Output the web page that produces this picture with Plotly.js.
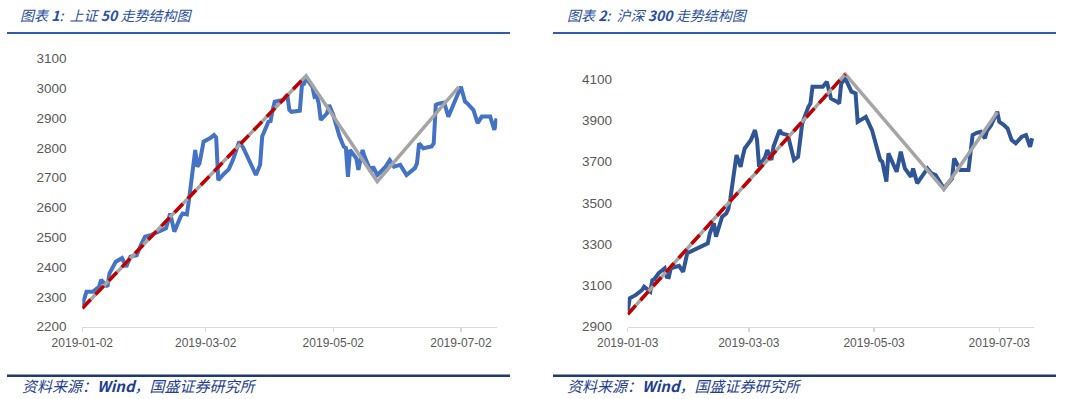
<!DOCTYPE html>
<html><head><meta charset="utf-8">
<script src="https://cdn.plot.ly/plotly-3.0.1.min.js"></script>
<style>html,body{margin:0;padding:0;background:#fff;}#chart{width:1080px;height:399px;}</style>
</head><body><div id="chart"></div>
<script>
// ---- Chart 1: SSE 50 ----
const sse50Dates = ['2019-01-02','2019-01-04','2019-01-07','2019-01-10','2019-01-11','2019-01-14','2019-01-15','2019-01-18','2019-01-21','2019-01-23','2019-01-25','2019-01-28','2019-01-30','2019-02-01','2019-02-04','2019-02-08','2019-02-11','2019-02-13','2019-02-15','2019-02-18','2019-02-19','2019-02-21','2019-02-22','2019-02-25','2019-02-26','2019-02-27','2019-03-01','2019-03-04','2019-03-06','2019-03-07','2019-03-08','2019-03-11','2019-03-13','2019-03-15','2019-03-18','2019-03-20','2019-03-22','2019-03-25','2019-03-26','2019-03-28','2019-03-29','2019-04-01','2019-04-02','2019-04-03','2019-04-04','2019-04-08','2019-04-10','2019-04-11','2019-04-12','2019-04-16','2019-04-17','2019-04-18','2019-04-19','2019-04-22','2019-04-23','2019-04-24','2019-04-25','2019-04-26','2019-04-29','2019-04-30','2019-05-02','2019-05-05','2019-05-07','2019-05-08','2019-05-09','2019-05-10','2019-05-13','2019-05-14','2019-05-16','2019-05-17','2019-05-20','2019-05-21','2019-05-23','2019-05-24','2019-05-27','2019-05-29','2019-05-31','2019-06-03','2019-06-06','2019-06-10','2019-06-11','2019-06-12','2019-06-14','2019-06-18','2019-06-19','2019-06-20','2019-06-21','2019-06-24','2019-06-26','2019-06-28','2019-07-01','2019-07-02','2019-07-04','2019-07-05','2019-07-08','2019-07-10','2019-07-12','2019-07-15','2019-07-16','2019-07-18','2019-07-19'];
const sse50Values = [2273,2317,2317,2334,2357,2334,2379,2418,2430,2401,2435,2440,2474,2502,2508,2522,2530,2580,2519,2569,2580,2577,2625,2793,2737,2748,2821,2832,2843,2835,2692,2715,2728,2759,2821,2800,2770,2720,2709,2743,2838,2888,2890,2927,2955,2961,2978,2927,2921,2925,3011,3015,3034,3005,2972,2975,2950,2894,2916,2944,2910,2838,2804,2800,2703,2793,2765,2726,2793,2770,2720,2737,2709,2715,2737,2759,2737,2743,2709,2732,2748,2815,2799,2805,2815,2944,2948,2952,2905,2938,2994,3005,2955,2950,2927,2883,2905,2905,2905,2860,2899];
const sse50TrendDates = ['2019-01-02','2019-04-19','2019-05-23','2019-07-01'];
const sse50TrendValues = [2262,3042,2687,3005];
const sse50UpDates = ['2019-01-02','2019-04-19'];
const sse50UpValues = [2262,3042];
const sse50Ticks = ['2019-01-02','2019-03-02','2019-05-02','2019-07-02'];
const sse50YTicks = [2200,2300,2400,2500,2600,2700,2800,2900,3000,3100];

// ---- Chart 2: CSI 300 ----
const hs300Dates = ['2019-01-03','2019-01-04','2019-01-07','2019-01-10','2019-01-11','2019-01-14','2019-01-15','2019-01-16','2019-01-18','2019-01-21','2019-01-22','2019-01-23','2019-01-24','2019-01-28','2019-01-30','2019-01-31','2019-02-01','2019-02-11','2019-02-12','2019-02-14','2019-02-15','2019-02-18','2019-02-20','2019-02-21','2019-02-22','2019-02-25','2019-02-26','2019-02-27','2019-02-28','2019-03-01','2019-03-04','2019-03-05','2019-03-06','2019-03-07','2019-03-08','2019-03-11','2019-03-12','2019-03-14','2019-03-15','2019-03-18','2019-03-19','2019-03-22','2019-03-25','2019-03-27','2019-03-29','2019-04-01','2019-04-02','2019-04-03','2019-04-08','2019-04-10','2019-04-12','2019-04-15','2019-04-16','2019-04-17','2019-04-18','2019-04-19','2019-04-22','2019-04-24','2019-04-25','2019-04-26','2019-04-29','2019-05-02','2019-05-04','2019-05-06','2019-05-07','2019-05-09','2019-05-10','2019-05-12','2019-05-14','2019-05-16','2019-05-18','2019-05-21','2019-05-22','2019-05-24','2019-05-26','2019-05-29','2019-05-31','2019-06-02','2019-06-06','2019-06-08','2019-06-10','2019-06-11','2019-06-13','2019-06-14','2019-06-18','2019-06-20','2019-06-22','2019-06-24','2019-06-26','2019-06-27','2019-06-29','2019-07-02','2019-07-03','2019-07-05','2019-07-07','2019-07-09','2019-07-11','2019-07-14','2019-07-16','2019-07-17','2019-07-18','2019-07-19'];
const hs300Values = [2975,3038,3054,3078,3094,3070,3126,3130,3159,3183,3142,3140,3183,3195,3166,3223,3256,3304,3352,3401,3336,3433,3449,3470,3520,3732,3700,3675,3724,3764,3805,3830,3853,3805,3675,3724,3756,3708,3772,3853,3837,3829,3708,3724,3885,3966,3982,4063,4063,4087,4006,3990,3982,4079,4090,4103,4039,4031,3893,3900,3917,3853,3772,3708,3700,3603,3740,3692,3651,3748,3667,3627,3667,3595,3627,3667,3643,3635,3570,3595,3619,3716,3670,3659,3659,3829,3840,3845,3813,3850,3877,3942,3893,3880,3861,3805,3789,3821,3829,3805,3772,3813];
const hs300TrendDates = ['2019-01-03','2019-04-19','2019-06-06','2019-07-02'];
const hs300TrendValues = [2960,4124,3566,3940];
const hs300UpDates = ['2019-01-03','2019-04-19'];
const hs300UpValues = [2960,4124];
const hs300Ticks = ['2019-01-03','2019-03-03','2019-05-03','2019-07-03'];
const hs300YTicks = [2900,3100,3300,3500,3700,3900,4100];

const W = 1080, H = 399;
const px = x => x / W;
const py = y => 1 - y / H;

const traces = [
  {x: sse50Dates, y: sse50Values, xaxis:'x', yaxis:'y', mode:'lines', line:{color:'#4472C4', width:4}, hoverinfo:'skip'},
  {x: sse50TrendDates, y: sse50TrendValues, xaxis:'x', yaxis:'y', mode:'lines', line:{color:'#A5A5A5', width:3.5}, hoverinfo:'skip'},
  {x: sse50UpDates, y: sse50UpValues, xaxis:'x', yaxis:'y', mode:'lines', line:{color:'#C00000', width:3.5, dash:'12px,7px'}, hoverinfo:'skip'},
  {x: hs300Dates, y: hs300Values, xaxis:'x2', yaxis:'y2', mode:'lines', line:{color:'#2F5597', width:4}, hoverinfo:'skip'},
  {x: hs300TrendDates, y: hs300TrendValues, xaxis:'x2', yaxis:'y2', mode:'lines', line:{color:'#A5A5A5', width:3.5}, hoverinfo:'skip'},
  {x: hs300UpDates, y: hs300UpValues, xaxis:'x2', yaxis:'y2', mode:'lines', line:{color:'#C00000', width:3.5, dash:'12px,7px'}, hoverinfo:'skip'}
];

const tickFontX = {family:'Liberation Sans, Arial, sans-serif', size:12, color:'#595959'};
const tickFontY = {family:'Liberation Sans, Arial, sans-serif', size:13.5, color:'#595959'};
const yDom = [py(326.7), py(58.5)];

function xAxis(dom, range, ticks){
  return {domain: dom, range: range, type:'date', tickmode:'array', tickvals: ticks, ticktext: ticks,
    showgrid:false, zeroline:false, showline:true, linecolor:'#D9D9D9', linewidth:1.5,
    ticks:'outside', ticklen:4, tickcolor:'#D9D9D9', tickwidth:1.5, tickfont: tickFontX, fixedrange:true};
}
function yAxis(anchor, range, ticks){
  return {domain: yDom, range: range, anchor: anchor, tickmode:'array', tickvals: ticks, ticktext: ticks.map(String),
    showgrid:false, zeroline:false, showline:false, ticks:'outside', ticklen:12, tickcolor:'rgba(0,0,0,0)',
    tickfont: tickFontY, fixedrange:true};
}

const titleFont = {family:'Noto Sans CJK SC, sans-serif', size:14, color:'#2B4FA0'};
const srcFont = {family:'Noto Sans CJK SC, sans-serif', size:15, color:'#1F3F8F'};

const layout = {
  width: W, height: H, margin:{l:0,r:0,t:0,b:0}, paper_bgcolor:'#fff', plot_bgcolor:'#fff', showlegend:false,
  xaxis: xAxis([px(82.3), px(497.3)], ['2019-01-02', '2019-07-19 09:36'], sse50Ticks),
  yaxis: yAxis('x', [2200, 3100], sse50YTicks),
  xaxis2: xAxis([px(627.7), px(1034)], ['2019-01-03', '2019-07-19 21:36'], hs300Ticks),
  yaxis2: yAxis('x2', [2900, 4200], hs300YTicks),
  shapes: [
    {type:'line', xref:'paper', yref:'paper', x0:px(7), x1:px(510), y0:py(33), y1:py(33), line:{color:'#2E5EAA', width:2}},
    {type:'line', xref:'paper', yref:'paper', x0:px(553), x1:px(1056), y0:py(33), y1:py(33), line:{color:'#2E5EAA', width:2}},
    {type:'line', xref:'paper', yref:'paper', x0:px(7), x1:px(510), y0:py(375.7), y1:py(375.7), line:{color:'#1F3B73', width:2.5}},
    {type:'line', xref:'paper', yref:'paper', x0:px(553), x1:px(1056), y0:py(375.7), y1:py(375.7), line:{color:'#1F3B73', width:2.5}}
  ],
  annotations: [
    {text:'<i>图表 <b>1</b>:  上证 <b>50</b> 走势结构图</i>', xref:'paper', yref:'paper', x:px(18), y:py(15), xanchor:'left', yanchor:'middle', showarrow:false, font:titleFont},
    {text:'<i>图表 <b>2</b>:  沪深 <b>300</b> 走势结构图</i>', xref:'paper', yref:'paper', x:px(25+540), y:py(15), xanchor:'left', yanchor:'middle', showarrow:false, font:titleFont},
    {text:'<i>资料来源：<b>Wind</b>，国盛证券研究所</i>', xref:'paper', yref:'paper', x:px(20), y:py(385), xanchor:'left', yanchor:'middle', showarrow:false, font:srcFont},
    {text:'<i>资料来源：<b>Wind</b>，国盛证券研究所</i>', xref:'paper', yref:'paper', x:px(565), y:py(385), xanchor:'left', yanchor:'middle', showarrow:false, font:srcFont}
  ]
};

Plotly.newPlot('chart', traces, layout, {staticPlot:true, displayModeBar:false});
</script></body></html>
